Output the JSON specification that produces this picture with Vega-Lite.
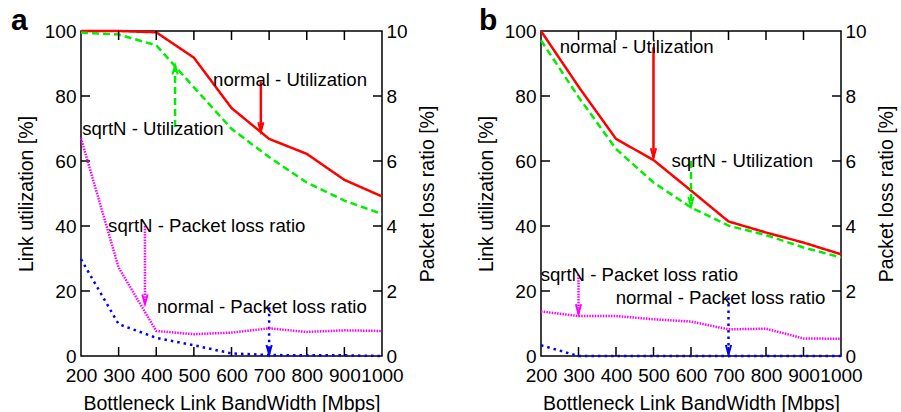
{
  "$schema": "https://vega.github.io/schema/vega-lite/v6.json",
  "background": "white",
  "padding": {"left": 10, "top": 5, "right": 5, "bottom": 0},
  "spacing": 37,
  "config": {
    "view": {"stroke": "black", "strokeWidth": 1.5},
    "font": "Liberation Sans",
    "axis": {
      "labelFont": "Liberation Sans", "labelFontSize": 19, "labelColor": "black",
      "titleFont": "Liberation Sans", "titleFontSize": 19.5, "titleFontWeight": "normal", "titleColor": "black",
      "domain": false, "ticks": false, "tickSize": 0, "grid": false,
      "labelOverlap": false, "labelFlush": false, "labelBound": false, "format": "d"
    },
    "title": {"font": "Liberation Sans", "fontSize": 30, "fontWeight": "bold", "color": "black", "anchor": "start", "frame": "group"}
  },
  "datasets": {
    "yticks": [{"v": 20}, {"v": 40}, {"v": 60}, {"v": 80}],
    "xticks": [{"v": 300}, {"v": 400}, {"v": 500}, {"v": 600}, {"v": 700}, {"v": 800}, {"v": 900}],
    "lines": [
      {"panel": "a", "metric": "util", "curve": "normal - Utilization", "bw": 200, "value": 100},
      {"panel": "a", "metric": "util", "curve": "normal - Utilization", "bw": 300, "value": 100},
      {"panel": "a", "metric": "util", "curve": "normal - Utilization", "bw": 400, "value": 99.6},
      {"panel": "a", "metric": "util", "curve": "normal - Utilization", "bw": 500, "value": 91.8},
      {"panel": "a", "metric": "util", "curve": "normal - Utilization", "bw": 600, "value": 76.3},
      {"panel": "a", "metric": "util", "curve": "normal - Utilization", "bw": 700, "value": 66.8},
      {"panel": "a", "metric": "util", "curve": "normal - Utilization", "bw": 800, "value": 62.2},
      {"panel": "a", "metric": "util", "curve": "normal - Utilization", "bw": 900, "value": 54.2},
      {"panel": "a", "metric": "util", "curve": "normal - Utilization", "bw": 1000, "value": 49.1},
      {"panel": "a", "metric": "util", "curve": "sqrtN - Utilization", "bw": 200, "value": 99.5},
      {"panel": "a", "metric": "util", "curve": "sqrtN - Utilization", "bw": 300, "value": 98.9},
      {"panel": "a", "metric": "util", "curve": "sqrtN - Utilization", "bw": 400, "value": 95.6},
      {"panel": "a", "metric": "util", "curve": "sqrtN - Utilization", "bw": 500, "value": 82.7},
      {"panel": "a", "metric": "util", "curve": "sqrtN - Utilization", "bw": 600, "value": 69.9},
      {"panel": "a", "metric": "util", "curve": "sqrtN - Utilization", "bw": 700, "value": 61.2},
      {"panel": "a", "metric": "util", "curve": "sqrtN - Utilization", "bw": 800, "value": 53.4},
      {"panel": "a", "metric": "util", "curve": "sqrtN - Utilization", "bw": 900, "value": 47.8},
      {"panel": "a", "metric": "util", "curve": "sqrtN - Utilization", "bw": 1000, "value": 43.7},
      {"panel": "a", "metric": "loss", "curve": "normal - Packet loss ratio", "bw": 200, "value": 2.98},
      {"panel": "a", "metric": "loss", "curve": "normal - Packet loss ratio", "bw": 300, "value": 0.98},
      {"panel": "a", "metric": "loss", "curve": "normal - Packet loss ratio", "bw": 400, "value": 0.56},
      {"panel": "a", "metric": "loss", "curve": "normal - Packet loss ratio", "bw": 500, "value": 0.33},
      {"panel": "a", "metric": "loss", "curve": "normal - Packet loss ratio", "bw": 600, "value": 0.08},
      {"panel": "a", "metric": "loss", "curve": "normal - Packet loss ratio", "bw": 700, "value": 0.03},
      {"panel": "a", "metric": "loss", "curve": "normal - Packet loss ratio", "bw": 800, "value": 0.02},
      {"panel": "a", "metric": "loss", "curve": "normal - Packet loss ratio", "bw": 900, "value": 0.02},
      {"panel": "a", "metric": "loss", "curve": "normal - Packet loss ratio", "bw": 1000, "value": 0.0},
      {"panel": "a", "metric": "loss", "curve": "sqrtN - Packet loss ratio", "bw": 200, "value": 6.7},
      {"panel": "a", "metric": "loss", "curve": "sqrtN - Packet loss ratio", "bw": 300, "value": 2.72},
      {"panel": "a", "metric": "loss", "curve": "sqrtN - Packet loss ratio", "bw": 400, "value": 0.77},
      {"panel": "a", "metric": "loss", "curve": "sqrtN - Packet loss ratio", "bw": 500, "value": 0.67},
      {"panel": "a", "metric": "loss", "curve": "sqrtN - Packet loss ratio", "bw": 600, "value": 0.72},
      {"panel": "a", "metric": "loss", "curve": "sqrtN - Packet loss ratio", "bw": 700, "value": 0.85},
      {"panel": "a", "metric": "loss", "curve": "sqrtN - Packet loss ratio", "bw": 800, "value": 0.74},
      {"panel": "a", "metric": "loss", "curve": "sqrtN - Packet loss ratio", "bw": 900, "value": 0.79},
      {"panel": "a", "metric": "loss", "curve": "sqrtN - Packet loss ratio", "bw": 1000, "value": 0.77},
      {"panel": "b", "metric": "util", "curve": "normal - Utilization", "bw": 200, "value": 100},
      {"panel": "b", "metric": "util", "curve": "normal - Utilization", "bw": 300, "value": 82.9},
      {"panel": "b", "metric": "util", "curve": "normal - Utilization", "bw": 400, "value": 66.8},
      {"panel": "b", "metric": "util", "curve": "normal - Utilization", "bw": 500, "value": 60.3},
      {"panel": "b", "metric": "util", "curve": "normal - Utilization", "bw": 600, "value": 50.9},
      {"panel": "b", "metric": "util", "curve": "normal - Utilization", "bw": 700, "value": 41.4},
      {"panel": "b", "metric": "util", "curve": "normal - Utilization", "bw": 800, "value": 38.0},
      {"panel": "b", "metric": "util", "curve": "normal - Utilization", "bw": 900, "value": 34.9},
      {"panel": "b", "metric": "util", "curve": "normal - Utilization", "bw": 1000, "value": 31.3},
      {"panel": "b", "metric": "util", "curve": "sqrtN - Utilization", "bw": 200, "value": 97.1},
      {"panel": "b", "metric": "util", "curve": "sqrtN - Utilization", "bw": 300, "value": 79.7},
      {"panel": "b", "metric": "util", "curve": "sqrtN - Utilization", "bw": 400, "value": 63.7},
      {"panel": "b", "metric": "util", "curve": "sqrtN - Utilization", "bw": 500, "value": 53.4},
      {"panel": "b", "metric": "util", "curve": "sqrtN - Utilization", "bw": 600, "value": 45.7},
      {"panel": "b", "metric": "util", "curve": "sqrtN - Utilization", "bw": 700, "value": 40.1},
      {"panel": "b", "metric": "util", "curve": "sqrtN - Utilization", "bw": 800, "value": 37.2},
      {"panel": "b", "metric": "util", "curve": "sqrtN - Utilization", "bw": 900, "value": 33.4},
      {"panel": "b", "metric": "util", "curve": "sqrtN - Utilization", "bw": 1000, "value": 30.3},
      {"panel": "b", "metric": "loss", "curve": "normal - Packet loss ratio", "bw": 200, "value": 0.33},
      {"panel": "b", "metric": "loss", "curve": "normal - Packet loss ratio", "bw": 300, "value": 0.0},
      {"panel": "b", "metric": "loss", "curve": "normal - Packet loss ratio", "bw": 400, "value": 0.0},
      {"panel": "b", "metric": "loss", "curve": "normal - Packet loss ratio", "bw": 500, "value": 0.0},
      {"panel": "b", "metric": "loss", "curve": "normal - Packet loss ratio", "bw": 600, "value": 0.0},
      {"panel": "b", "metric": "loss", "curve": "normal - Packet loss ratio", "bw": 700, "value": 0.0},
      {"panel": "b", "metric": "loss", "curve": "normal - Packet loss ratio", "bw": 800, "value": 0.0},
      {"panel": "b", "metric": "loss", "curve": "normal - Packet loss ratio", "bw": 900, "value": 0.0},
      {"panel": "b", "metric": "loss", "curve": "normal - Packet loss ratio", "bw": 1000, "value": 0.0},
      {"panel": "b", "metric": "loss", "curve": "sqrtN - Packet loss ratio", "bw": 200, "value": 1.37},
      {"panel": "b", "metric": "loss", "curve": "sqrtN - Packet loss ratio", "bw": 300, "value": 1.23},
      {"panel": "b", "metric": "loss", "curve": "sqrtN - Packet loss ratio", "bw": 400, "value": 1.23},
      {"panel": "b", "metric": "loss", "curve": "sqrtN - Packet loss ratio", "bw": 500, "value": 1.13},
      {"panel": "b", "metric": "loss", "curve": "sqrtN - Packet loss ratio", "bw": 600, "value": 1.06},
      {"panel": "b", "metric": "loss", "curve": "sqrtN - Packet loss ratio", "bw": 700, "value": 0.82},
      {"panel": "b", "metric": "loss", "curve": "sqrtN - Packet loss ratio", "bw": 800, "value": 0.84},
      {"panel": "b", "metric": "loss", "curve": "sqrtN - Packet loss ratio", "bw": 900, "value": 0.54},
      {"panel": "b", "metric": "loss", "curve": "sqrtN - Packet loss ratio", "bw": 1000, "value": 0.53}
    ],
    "notes": [
      {"panel": "a", "curve": "normal - Utilization", "tx": 551, "ty": 85, "ax": 678, "tail": 84.5, "tip": 69},
      {"panel": "a", "curve": "sqrtN - Utilization", "tx": 203, "ty": 70, "ax": 450, "tail": 70.5, "tip": 89.5},
      {"panel": "a", "curve": "sqrtN - Packet loss ratio", "tx": 272, "ty": 40, "ax": 370, "tail": 40, "tip": 16},
      {"panel": "a", "curve": "normal - Packet loss ratio", "tx": 402, "ty": 15, "ax": 700, "tail": 15, "tip": 0.5},
      {"panel": "b", "curve": "normal - Utilization", "tx": 250, "ty": 95, "ax": 500, "tail": 95, "tip": 61},
      {"panel": "b", "curve": "sqrtN - Utilization", "tx": 548, "ty": 60, "ax": 600, "tail": 60, "tip": 46},
      {"panel": "b", "curve": "sqrtN - Packet loss ratio", "tx": 199, "ty": 25, "ax": 300, "tail": 25, "tip": 13},
      {"panel": "b", "curve": "normal - Packet loss ratio", "tx": 399, "ty": 18, "ax": 700, "tail": 18, "tip": 0.5}
    ]
  },
  "hconcat": [
    {
      "title": {"text": "a", "dx": -70, "offset": -14},
      "width": 301, "height": 325,
      "layer": [
        {
          "layer": [
            {
              "data": {"name": "lines"},
              "transform": [{"filter": "datum.panel == 'a' && datum.metric == 'util'"}],
              "mark": {"type": "line", "strokeWidth": 2.5},
              "encoding": {
                "x": {"field": "bw", "type": "quantitative", "scale": {"domain": [200, 1000], "nice": false}, "axis": {"values": [200, 300, 400, 500, 600, 700, 800, 900, 1000], "title": "Bottleneck Link BandWidth [Mbps]", "labelPadding": 10, "titlePadding": 9}},
                "y": {"field": "value", "type": "quantitative", "scale": {"domain": [0, 100], "nice": false}, "axis": {"values": [0, 20, 40, 60, 80, 100], "title": "Link utilization [%]", "labelPadding": 5, "titlePadding": 8}},
                "color": {"field": "curve", "type": "nominal", "legend": null, "scale": {"domain": ["normal - Utilization", "sqrtN - Utilization", "normal - Packet loss ratio", "sqrtN - Packet loss ratio"], "range": ["#ff0000", "#00ee00", "#0000ff", "#ff00ff"]}},
                "strokeDash": {"field": "curve", "type": "nominal", "legend": null, "scale": {"domain": ["normal - Utilization", "sqrtN - Utilization", "normal - Packet loss ratio", "sqrtN - Packet loss ratio"], "range": [[1, 0], [7, 4], [2.5, 4], [1.5, 1.2]]}}
              }
            },
            {
              "data": {"name": "yticks"},
              "mark": {"type": "tick", "orient": "horizontal", "size": 9, "thickness": 1.5, "color": "black", "opacity": 1, "xOffset": 4.5},
              "encoding": {
                "x": {"datum": 200, "type": "quantitative", "axis": {"values": [200, 300, 400, 500, 600, 700, 800, 900, 1000], "title": "Bottleneck Link BandWidth [Mbps]", "labelPadding": 10, "titlePadding": 9}},
                "y": {"field": "v", "type": "quantitative", "axis": {"values": [0, 20, 40, 60, 80, 100], "title": "Link utilization [%]", "labelPadding": 5, "titlePadding": 8}}
              }
            },
            {
              "data": {"name": "yticks"},
              "mark": {"type": "tick", "orient": "horizontal", "size": 9, "thickness": 1.5, "color": "black", "opacity": 1, "xOffset": -4.5},
              "encoding": {
                "x": {"datum": 1000, "type": "quantitative", "axis": {"values": [200, 300, 400, 500, 600, 700, 800, 900, 1000], "title": "Bottleneck Link BandWidth [Mbps]", "labelPadding": 10, "titlePadding": 9}},
                "y": {"field": "v", "type": "quantitative", "axis": {"values": [0, 20, 40, 60, 80, 100], "title": "Link utilization [%]", "labelPadding": 5, "titlePadding": 8}}
              }
            },
            {
              "data": {"name": "xticks"},
              "mark": {"type": "tick", "orient": "vertical", "size": 9, "thickness": 1.5, "color": "black", "opacity": 1, "yOffset": -4.5},
              "encoding": {
                "x": {"field": "v", "type": "quantitative", "axis": {"values": [200, 300, 400, 500, 600, 700, 800, 900, 1000], "title": "Bottleneck Link BandWidth [Mbps]", "labelPadding": 10, "titlePadding": 9}},
                "y": {"datum": 0, "type": "quantitative", "axis": {"values": [0, 20, 40, 60, 80, 100], "title": "Link utilization [%]", "labelPadding": 5, "titlePadding": 8}}
              }
            },
            {
              "data": {"name": "xticks"},
              "mark": {"type": "tick", "orient": "vertical", "size": 9, "thickness": 1.5, "color": "black", "opacity": 1, "yOffset": 4.5},
              "encoding": {
                "x": {"field": "v", "type": "quantitative", "axis": {"values": [200, 300, 400, 500, 600, 700, 800, 900, 1000], "title": "Bottleneck Link BandWidth [Mbps]", "labelPadding": 10, "titlePadding": 9}},
                "y": {"datum": 100, "type": "quantitative", "axis": {"values": [0, 20, 40, 60, 80, 100], "title": "Link utilization [%]", "labelPadding": 5, "titlePadding": 8}}
              }
            },
            {
              "data": {"name": "notes"},
              "transform": [{"filter": "datum.panel == 'a'"}],
              "mark": {"type": "rule", "strokeWidth": 2.5},
              "encoding": {
                "x": {"field": "ax", "type": "quantitative", "axis": {"values": [200, 300, 400, 500, 600, 700, 800, 900, 1000], "title": "Bottleneck Link BandWidth [Mbps]", "labelPadding": 10, "titlePadding": 9}},
                "y": {"field": "tail", "type": "quantitative", "axis": {"values": [0, 20, 40, 60, 80, 100], "title": "Link utilization [%]", "labelPadding": 5, "titlePadding": 8}},
                "y2": {"field": "tip"},
                "color": {"field": "curve", "type": "nominal", "legend": null},
                "strokeDash": {"field": "curve", "type": "nominal", "legend": null}
              }
            },
            {
              "data": {"name": "notes"},
              "transform": [{"filter": "datum.panel == 'a' && datum.tip < datum.tail"}],
              "mark": {"type": "point", "shape": "M-0.5,-1.8L0,0L0.5,-1.8", "filled": false, "size": 110, "strokeWidth": 2, "opacity": 1},
              "encoding": {
                "x": {"field": "ax", "type": "quantitative", "axis": {"values": [200, 300, 400, 500, 600, 700, 800, 900, 1000], "title": "Bottleneck Link BandWidth [Mbps]", "labelPadding": 10, "titlePadding": 9}},
                "y": {"field": "tip", "type": "quantitative", "axis": {"values": [0, 20, 40, 60, 80, 100], "title": "Link utilization [%]", "labelPadding": 5, "titlePadding": 8}},
                "color": {"field": "curve", "type": "nominal", "legend": null}
              }
            },
            {
              "data": {"name": "notes"},
              "transform": [{"filter": "datum.panel == 'a' && datum.tip > datum.tail"}],
              "mark": {"type": "point", "shape": "M-0.5,1.8L0,0L0.5,1.8", "filled": false, "size": 110, "strokeWidth": 2, "opacity": 1},
              "encoding": {
                "x": {"field": "ax", "type": "quantitative", "axis": {"values": [200, 300, 400, 500, 600, 700, 800, 900, 1000], "title": "Bottleneck Link BandWidth [Mbps]", "labelPadding": 10, "titlePadding": 9}},
                "y": {"field": "tip", "type": "quantitative", "axis": {"values": [0, 20, 40, 60, 80, 100], "title": "Link utilization [%]", "labelPadding": 5, "titlePadding": 8}},
                "color": {"field": "curve", "type": "nominal", "legend": null}
              }
            },
            {
              "data": {"name": "notes"},
              "transform": [{"filter": "datum.panel == 'a'"}],
              "mark": {"type": "text", "align": "left", "baseline": "middle", "fontSize": 18.6, "font": "Liberation Sans", "color": "black"},
              "encoding": {
                "x": {"field": "tx", "type": "quantitative", "axis": {"values": [200, 300, 400, 500, 600, 700, 800, 900, 1000], "title": "Bottleneck Link BandWidth [Mbps]", "labelPadding": 10, "titlePadding": 9}},
                "y": {"field": "ty", "type": "quantitative", "axis": {"values": [0, 20, 40, 60, 80, 100], "title": "Link utilization [%]", "labelPadding": 5, "titlePadding": 8}},
                "text": {"field": "curve"}
              }
            }
          ]
        },
        {
          "data": {"name": "lines"},
          "transform": [{"filter": "datum.panel == 'a' && datum.metric == 'loss'"}],
          "mark": {"type": "line"},
          "encoding": {
            "x": {"field": "bw", "type": "quantitative", "axis": {"orient": "top", "values": [200, 300, 400, 500, 600, 700, 800, 900, 1000], "labels": false, "title": null}},
            "y": {"field": "value", "type": "quantitative", "scale": {"domain": [0, 10], "nice": false}, "axis": {"orient": "right", "values": [0, 2, 4, 6, 8, 10], "title": "Packet loss ratio [%]", "titleAngle": 270, "titleBaseline": "top", "labelPadding": 4, "titlePadding": 11}},
            "color": {"field": "curve", "type": "nominal", "legend": null},
            "strokeDash": {"field": "curve", "type": "nominal", "legend": null},
            "strokeWidth": {"field": "curve", "type": "nominal", "legend": null, "scale": {"domain": ["normal - Utilization", "sqrtN - Utilization", "normal - Packet loss ratio", "sqrtN - Packet loss ratio"], "range": [2.5, 2.5, 3, 1.8]}}
          }
        }
      ],
      "resolve": {"scale": {"y": "independent"}, "axis": {"x": "independent", "y": "independent"}}
    },
    {
      "title": {"text": "b", "dx": -62, "offset": -14},
      "width": 300, "height": 325,
      "layer": [
        {
          "layer": [
            {
              "data": {"name": "lines"},
              "transform": [{"filter": "datum.panel == 'b' && datum.metric == 'util'"}],
              "mark": {"type": "line", "strokeWidth": 2.5},
              "encoding": {
                "x": {"field": "bw", "type": "quantitative", "scale": {"domain": [200, 1000], "nice": false}, "axis": {"values": [200, 300, 400, 500, 600, 700, 800, 900, 1000], "title": "Bottleneck Link BandWidth [Mbps]", "labelPadding": 10, "titlePadding": 9}},
                "y": {"field": "value", "type": "quantitative", "scale": {"domain": [0, 100], "nice": false}, "axis": {"values": [0, 20, 40, 60, 80, 100], "title": "Link utilization [%]", "labelPadding": 5, "titlePadding": 8}},
                "color": {"field": "curve", "type": "nominal", "legend": null, "scale": {"domain": ["normal - Utilization", "sqrtN - Utilization", "normal - Packet loss ratio", "sqrtN - Packet loss ratio"], "range": ["#ff0000", "#00ee00", "#0000ff", "#ff00ff"]}},
                "strokeDash": {"field": "curve", "type": "nominal", "legend": null, "scale": {"domain": ["normal - Utilization", "sqrtN - Utilization", "normal - Packet loss ratio", "sqrtN - Packet loss ratio"], "range": [[1, 0], [7, 4], [2.5, 4], [1.5, 1.2]]}}
              }
            },
            {
              "data": {"name": "yticks"},
              "mark": {"type": "tick", "orient": "horizontal", "size": 9, "thickness": 1.5, "color": "black", "opacity": 1, "xOffset": 4.5},
              "encoding": {
                "x": {"datum": 200, "type": "quantitative", "axis": {"values": [200, 300, 400, 500, 600, 700, 800, 900, 1000], "title": "Bottleneck Link BandWidth [Mbps]", "labelPadding": 10, "titlePadding": 9}},
                "y": {"field": "v", "type": "quantitative", "axis": {"values": [0, 20, 40, 60, 80, 100], "title": "Link utilization [%]", "labelPadding": 5, "titlePadding": 8}}
              }
            },
            {
              "data": {"name": "yticks"},
              "mark": {"type": "tick", "orient": "horizontal", "size": 9, "thickness": 1.5, "color": "black", "opacity": 1, "xOffset": -4.5},
              "encoding": {
                "x": {"datum": 1000, "type": "quantitative", "axis": {"values": [200, 300, 400, 500, 600, 700, 800, 900, 1000], "title": "Bottleneck Link BandWidth [Mbps]", "labelPadding": 10, "titlePadding": 9}},
                "y": {"field": "v", "type": "quantitative", "axis": {"values": [0, 20, 40, 60, 80, 100], "title": "Link utilization [%]", "labelPadding": 5, "titlePadding": 8}}
              }
            },
            {
              "data": {"name": "xticks"},
              "mark": {"type": "tick", "orient": "vertical", "size": 9, "thickness": 1.5, "color": "black", "opacity": 1, "yOffset": -4.5},
              "encoding": {
                "x": {"field": "v", "type": "quantitative", "axis": {"values": [200, 300, 400, 500, 600, 700, 800, 900, 1000], "title": "Bottleneck Link BandWidth [Mbps]", "labelPadding": 10, "titlePadding": 9}},
                "y": {"datum": 0, "type": "quantitative", "axis": {"values": [0, 20, 40, 60, 80, 100], "title": "Link utilization [%]", "labelPadding": 5, "titlePadding": 8}}
              }
            },
            {
              "data": {"name": "xticks"},
              "mark": {"type": "tick", "orient": "vertical", "size": 9, "thickness": 1.5, "color": "black", "opacity": 1, "yOffset": 4.5},
              "encoding": {
                "x": {"field": "v", "type": "quantitative", "axis": {"values": [200, 300, 400, 500, 600, 700, 800, 900, 1000], "title": "Bottleneck Link BandWidth [Mbps]", "labelPadding": 10, "titlePadding": 9}},
                "y": {"datum": 100, "type": "quantitative", "axis": {"values": [0, 20, 40, 60, 80, 100], "title": "Link utilization [%]", "labelPadding": 5, "titlePadding": 8}}
              }
            },
            {
              "data": {"name": "notes"},
              "transform": [{"filter": "datum.panel == 'b'"}],
              "mark": {"type": "rule", "strokeWidth": 2.5},
              "encoding": {
                "x": {"field": "ax", "type": "quantitative", "axis": {"values": [200, 300, 400, 500, 600, 700, 800, 900, 1000], "title": "Bottleneck Link BandWidth [Mbps]", "labelPadding": 10, "titlePadding": 9}},
                "y": {"field": "tail", "type": "quantitative", "axis": {"values": [0, 20, 40, 60, 80, 100], "title": "Link utilization [%]", "labelPadding": 5, "titlePadding": 8}},
                "y2": {"field": "tip"},
                "color": {"field": "curve", "type": "nominal", "legend": null},
                "strokeDash": {"field": "curve", "type": "nominal", "legend": null}
              }
            },
            {
              "data": {"name": "notes"},
              "transform": [{"filter": "datum.panel == 'b' && datum.tip < datum.tail"}],
              "mark": {"type": "point", "shape": "M-0.5,-1.8L0,0L0.5,-1.8", "filled": false, "size": 110, "strokeWidth": 2, "opacity": 1},
              "encoding": {
                "x": {"field": "ax", "type": "quantitative", "axis": {"values": [200, 300, 400, 500, 600, 700, 800, 900, 1000], "title": "Bottleneck Link BandWidth [Mbps]", "labelPadding": 10, "titlePadding": 9}},
                "y": {"field": "tip", "type": "quantitative", "axis": {"values": [0, 20, 40, 60, 80, 100], "title": "Link utilization [%]", "labelPadding": 5, "titlePadding": 8}},
                "color": {"field": "curve", "type": "nominal", "legend": null}
              }
            },
            {
              "data": {"name": "notes"},
              "transform": [{"filter": "datum.panel == 'b'"}],
              "mark": {"type": "text", "align": "left", "baseline": "middle", "fontSize": 18.6, "font": "Liberation Sans", "color": "black"},
              "encoding": {
                "x": {"field": "tx", "type": "quantitative", "axis": {"values": [200, 300, 400, 500, 600, 700, 800, 900, 1000], "title": "Bottleneck Link BandWidth [Mbps]", "labelPadding": 10, "titlePadding": 9}},
                "y": {"field": "ty", "type": "quantitative", "axis": {"values": [0, 20, 40, 60, 80, 100], "title": "Link utilization [%]", "labelPadding": 5, "titlePadding": 8}},
                "text": {"field": "curve"}
              }
            }
          ]
        },
        {
          "data": {"name": "lines"},
          "transform": [{"filter": "datum.panel == 'b' && datum.metric == 'loss'"}],
          "mark": {"type": "line"},
          "encoding": {
            "x": {"field": "bw", "type": "quantitative", "axis": {"orient": "top", "values": [200, 300, 400, 500, 600, 700, 800, 900, 1000], "labels": false, "title": null}},
            "y": {"field": "value", "type": "quantitative", "scale": {"domain": [0, 10], "nice": false}, "axis": {"orient": "right", "values": [0, 2, 4, 6, 8, 10], "title": "Packet loss ratio [%]", "titleAngle": 270, "titleBaseline": "top", "labelPadding": 4, "titlePadding": 11}},
            "color": {"field": "curve", "type": "nominal", "legend": null},
            "strokeDash": {"field": "curve", "type": "nominal", "legend": null},
            "strokeWidth": {"field": "curve", "type": "nominal", "legend": null, "scale": {"domain": ["normal - Utilization", "sqrtN - Utilization", "normal - Packet loss ratio", "sqrtN - Packet loss ratio"], "range": [2.5, 2.5, 3, 1.8]}}
          }
        }
      ],
      "resolve": {"scale": {"y": "independent"}, "axis": {"x": "independent", "y": "independent"}}
    }
  ]
}
